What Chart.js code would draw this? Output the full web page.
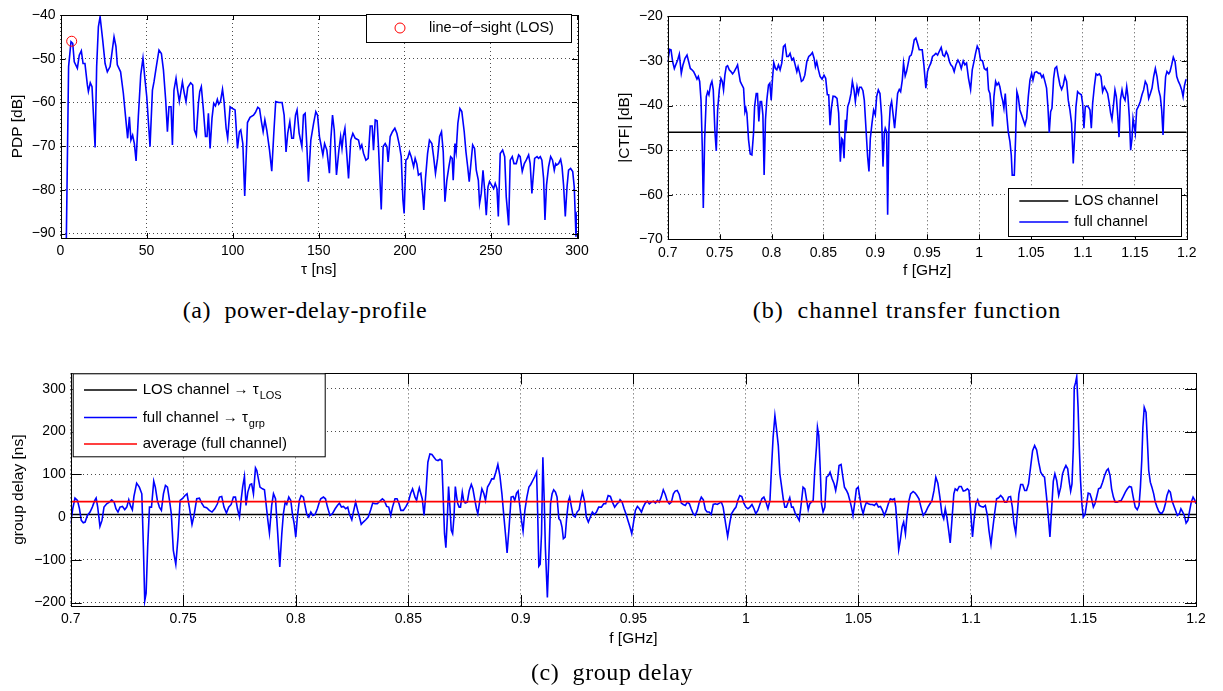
<!DOCTYPE html>
<html>
<head>
<meta charset="utf-8">
<script src="https://cdn.jsdelivr.net/npm/chart.js@4.4.1/dist/chart.umd.min.js"></script>
<style>
  html, body { margin: 0; padding: 0; background: #fff; }
  body { position: relative; width: 1223px; height: 691px; overflow: hidden; }
  canvas { position: absolute; }
  .caption {
    position: absolute; width: 600px; text-align: center; white-space: pre;
    font-family: "Liberation Serif", "Times New Roman", serif; font-size: 24px; line-height: 24px;
    letter-spacing: 0.6px; color: #000;
  }
</style>
</head>
<body>
<canvas id="pdp" width="600" height="290" style="left:0;top:0"></canvas>
<canvas id="ctf" width="613" height="290" style="left:610px;top:0"></canvas>
<canvas id="gd" width="1223" height="300" style="left:0;top:360px"></canvas>
<div class="caption" style="left:5px;top:298px">(a)  power-delay-profile</div>
<div class="caption" style="left:607px;top:298px;letter-spacing:0.95px">(b)  channel transfer function</div>
<div class="caption" style="left:312px;top:660px">(c)  group delay</div>
<script>
// ---- power-delay-profile ----
const tauNs = [
  3.4, 4.7, 6.1, 7.1, 8.0, 9.8, 10.9, 12.1, 13.1, 14.2,
  15.6, 16.2, 17.3, 18.3, 20.1, 21.0, 22.0, 23.0, 24.5, 25.9,
  27.2, 28.8, 29.7, 31.1, 32.2, 33.0, 34.9, 36.5, 37.8, 39.0,
  40.0, 40.9, 41.9, 42.9, 43.9, 45.2, 46.6, 47.9, 48.9, 50.1,
  52.0, 53.4, 54.3, 55.5, 57.2, 58.6, 59.8, 61.1, 62.1, 63.0,
  64.2, 65.0, 65.9, 67.1, 68.0, 69.0, 70.8, 71.9, 72.9, 73.9,
  75.6, 76.8, 77.8, 78.9, 80.1, 80.9, 81.8, 83.0, 84.2, 85.1,
  85.9, 86.9, 88.0, 89.0, 90.0, 91.1, 91.9, 92.9, 94.1, 95.0,
  96.2, 97.1, 98.5, 99.9, 101.4, 102.8, 103.9, 104.7, 105.9, 107.0,
  108.6, 110.1, 112.1, 113.2, 114.6, 115.6, 116.7, 117.7, 118.7, 119.8,
  121.4, 122.7, 123.9, 125.0, 126.8, 128.7, 129.9, 131.0, 132.0, 133.2,
  134.3, 135.3, 136.5, 137.4, 138.6, 140.2, 141.1, 142.1, 143.1, 144.0,
  145.4, 147.0, 148.3, 149.3, 150.4, 152.4, 153.4, 154.7, 156.2, 157.0,
  158.0, 159.0, 160.3, 161.7, 162.7, 163.5, 164.2, 165.2, 166.1, 167.3,
  168.6, 169.8, 171.2, 173.1, 174.1, 175.0, 176.0, 177.4, 178.7, 179.9,
  181.0, 181.8, 182.8, 183.9, 184.7, 186.3, 187.4, 188.6, 189.6, 190.3,
  191.5, 192.8, 194.2, 195.4, 196.8, 197.9, 198.9, 199.6, 200.6, 201.6,
  202.7, 203.7, 205.1, 206.0, 207.0, 207.9, 209.3, 210.5, 211.0, 212.0,
  213.2, 214.3, 215.7, 216.7, 217.8, 219.0, 220.2, 221.3, 222.3, 223.3,
  224.4, 225.6, 226.6, 227.5, 228.1, 229.1, 229.8, 230.8, 232.0, 233.1,
  234.5, 235.5, 236.5, 237.4, 238.4, 239.4, 240.5, 241.5, 242.7, 243.4,
  244.4, 245.4, 246.3, 247.3, 248.3, 249.2, 250.4, 251.6, 252.5, 253.5,
  254.3, 255.4, 256.8, 258.0, 258.9, 260.3, 261.2, 262.4, 263.4, 264.7,
  266.1, 267.0, 268.2, 269.4, 270.5, 271.9, 272.8, 273.8, 275.4, 276.8,
  277.7, 278.7, 279.6, 280.6, 281.4, 282.3, 283.5, 284.7, 285.8, 286.8,
  287.6, 288.3, 289.3, 290.5, 291.3, 292.2, 293.2, 294.2, 295.1, 296.3,
  297.5, 298.4, 299.4, 300
];
const pdpDb = [
  -91, -51.8, -46.1, -46.5, -50.7, -52.2, -49.2, -48.2, -51.1, -51.1,
  -56, -57.5, -55.5, -56.4, -70.3, -51.8, -42.7, -40.4, -45.7, -51.1,
  -53, -51.8, -49.2, -45, -47.2, -51.4, -53, -57.9, -63.3, -68.2,
  -63.3, -68.6, -67.5, -69.4, -73.4, -63.3, -53.7, -49.9, -54.1, -58.7,
  -70.1, -57.2, -55.3, -52.2, -48, -48.8, -52.6, -59.5, -66.7, -61,
  -61, -69.7, -57.2, -54.5, -57.2, -59.8, -55.3, -57.9, -59.8, -56.6,
  -55.5, -56, -66.3, -67.5, -60.2, -57.5, -56.4, -61.7, -67.8, -67.8,
  -62.5, -70.5, -63.6, -60.2, -60.8, -59.3, -60.4, -59.8, -57, -59.8,
  -65.9, -68.2, -61, -61.4, -61.7, -70.5, -66.7, -66.3, -69.4, -81.4,
  -64.6, -63.4, -62.9, -62.3, -61.1, -61.4, -64.4, -66.7, -64, -66.3,
  -70.9, -75.7, -67, -59.8, -60, -60, -62.9, -71.3, -67, -64.4,
  -68.2, -68.2, -62.9, -61.7, -67, -70.1, -62.9, -62.5, -70.1, -78.1,
  -68.6, -64.8, -62.1, -62.9, -67.8, -72, -69.4, -70.9, -76.2, -68.6,
  -62.9, -66.3, -76.6, -70.9, -67.8, -70.5, -67.8, -65.9, -70.9, -77.4,
  -68.6, -67.1, -68.2, -68.6, -70.5, -69.7, -71.6, -73.2, -72.8, -65.4,
  -65.4, -70.9, -64, -64.2, -70.1, -84.5, -70.1, -69.4, -70.1, -73.6,
  -67.8, -66.7, -65.9, -67.1, -69.7, -72.4, -82.3, -85.4, -73.2, -72.8,
  -71.3, -72.4, -74.7, -72.8, -74.1, -76.6, -76.2, -81.6, -84.6, -77.4,
  -71.7, -68.6, -69.4, -72.4, -76.2, -72.8, -67.8, -66.7, -71.3, -82.7,
  -77.8, -74.7, -72.4, -72.8, -77.8, -69.4, -71.3, -64.8, -61.4, -62.1,
  -66.7, -71.3, -74.7, -78.1, -73.9, -69.7, -70.5, -75.5, -77.8, -83.1,
  -80.8, -75.5, -79.7, -85.8, -79.3, -78.1, -78.9, -79.7, -78.5, -79.7,
  -86.1, -71.7, -70.9, -72.4, -81.6, -88.1, -73.2, -72.4, -74, -74,
  -72, -72.4, -75.8, -74, -73.2, -72, -74, -80.8, -72.8, -72.4,
  -72.8, -72.4, -73.2, -77.4, -86.9, -78.9, -74.7, -72.4, -73.2, -75.5,
  -74, -74.3, -74, -73, -74.7, -78.9, -86.1, -79.3, -75.5, -75.1,
  -75.8, -79.3, -90.7, -85
];
const losTauNs = 6.5;
const losPdpDb = -46;
const pdpTauTicks = [0, 50, 100, 150, 200, 250, 300];
const pdpDbTicks = [-90, -80, -70, -60, -50, -40];

// ---- channel transfer function ----
const ctfFreqGHz = [
  0.7000, 0.7019, 0.7032, 0.7048, 0.7064, 0.7077, 0.7096, 0.7112, 0.7131, 0.7147,
  0.7167, 0.7186, 0.7202, 0.7218, 0.7234, 0.7250, 0.7266, 0.7282, 0.7295, 0.7308,
  0.7321, 0.7333, 0.7343, 0.7356, 0.7372, 0.7385, 0.7397, 0.7413, 0.7426, 0.7439,
  0.7455, 0.7468, 0.7481, 0.7497, 0.7513, 0.7526, 0.7538, 0.7551, 0.7564, 0.7577,
  0.7593, 0.7609, 0.7625, 0.7641, 0.7657, 0.7673, 0.7686, 0.7699, 0.7715, 0.7731,
  0.7744, 0.7753, 0.7763, 0.7779, 0.7795, 0.7811, 0.7827, 0.7837, 0.7853, 0.7865,
  0.7878, 0.7891, 0.7904, 0.7917, 0.7929, 0.7942, 0.7955, 0.7971, 0.7984, 0.7997,
  0.8010, 0.8022, 0.8038, 0.8051, 0.8067, 0.8083, 0.8099, 0.8115, 0.8131, 0.8147,
  0.8163, 0.8179, 0.8196, 0.8212, 0.8228, 0.8244, 0.8256, 0.8272, 0.8288, 0.8304,
  0.8321, 0.8340, 0.8359, 0.8375, 0.8394, 0.8410, 0.8423, 0.8436, 0.8452, 0.8468,
  0.8487, 0.8506, 0.8522, 0.8538, 0.8551, 0.8564, 0.8577, 0.8593, 0.8612, 0.8631,
  0.8647, 0.8663, 0.8676, 0.8686, 0.8699, 0.8712, 0.8721, 0.8734, 0.8750, 0.8766,
  0.8779, 0.8795, 0.8808, 0.8824, 0.8837, 0.8849, 0.8865, 0.8881, 0.8894, 0.8910,
  0.8926, 0.8939, 0.8952, 0.8968, 0.8984, 0.9000, 0.9013, 0.9029, 0.9045, 0.9061,
  0.9074, 0.9087, 0.9096, 0.9109, 0.9119, 0.9131, 0.9144, 0.9157, 0.9170, 0.9186,
  0.9199, 0.9215, 0.9231, 0.9244, 0.9260, 0.9272, 0.9288, 0.9301, 0.9314, 0.9330,
  0.9346, 0.9359, 0.9375, 0.9391, 0.9407, 0.9423, 0.9436, 0.9452, 0.9468, 0.9487,
  0.9503, 0.9519, 0.9535, 0.9551, 0.9567, 0.9584, 0.9600, 0.9616, 0.9635, 0.9651,
  0.9667, 0.9683, 0.9699, 0.9715, 0.9728, 0.9744, 0.9760, 0.9776, 0.9796, 0.9812,
  0.9828, 0.9847, 0.9863, 0.9879, 0.9898, 0.9918, 0.9934, 0.9950, 0.9966, 0.9982,
  0.9998, 1.0014, 1.0033, 1.0050, 1.0066, 1.0078, 1.0091, 1.0104, 1.0117, 1.0130,
  1.0143, 1.0159, 1.0172, 1.0188, 1.0200, 1.0217, 1.0226, 1.0239, 1.0252, 1.0265,
  1.0281, 1.0297, 1.0310, 1.0319, 1.0339, 1.0352, 1.0364, 1.0377, 1.0393, 1.0409,
  1.0425, 1.0442, 1.0458, 1.0474, 1.0490, 1.0506, 1.0519, 1.0535, 1.0554, 1.0573,
  1.0589, 1.0605, 1.0618, 1.0634, 1.0650, 1.0663, 1.0676, 1.0689, 1.0702, 1.0718,
  1.0731, 1.0747, 1.0763, 1.0779, 1.0795, 1.0811, 1.0827, 1.0843, 1.0859, 1.0875,
  1.0891, 1.0907, 1.0920, 1.0933, 1.0949, 1.0965, 1.0985, 1.0997, 1.1010, 1.1023,
  1.1039, 1.1055, 1.1068, 1.1081, 1.1094, 1.1110, 1.1126, 1.1142, 1.1158, 1.1174,
  1.1190, 1.1206, 1.1222, 1.1238, 1.1254, 1.1267, 1.1280, 1.1293, 1.1309, 1.1322,
  1.1335, 1.1348, 1.1361, 1.1377, 1.1389, 1.1406, 1.1422, 1.1434, 1.1447, 1.1460,
  1.1473, 1.1483, 1.1495, 1.1505, 1.1518, 1.1537, 1.1553, 1.1569, 1.1585, 1.1601,
  1.1618, 1.1634, 1.1650, 1.1666, 1.1682, 1.1698, 1.1714, 1.1730, 1.1746, 1.1759,
  1.1772, 1.1785, 1.1797, 1.1810, 1.1827, 1.1839, 1.1855, 1.1871, 1.1888, 1.1904,
  1.1920, 1.1936, 1.1952, 1.1965, 1.1978, 1.1991, 1.2000
];
const ctfDb = [
  -30.2, -27.4, -27.5, -30.2, -31.7, -30.9, -29.8, -28.5, -32.8, -30.9,
  -29.4, -28.7, -30.2, -31.7, -32.0, -32.4, -33.2, -34.1, -33.5, -34.6,
  -38.8, -49.2, -63.0, -47.7, -38.0, -36.9, -37.6, -35.4, -34.6, -36.5,
  -45.9, -50.2, -41.0, -36.5, -33.9, -34.6, -36.5, -33.2, -31.3, -31.1,
  -32.0, -32.4, -32.9, -32.4, -31.7, -30.9, -32.8, -34.6, -35.4, -36.1,
  -41.4, -40.6, -41.7, -47.7, -50.9, -51.1, -46.2, -40.3, -37.3, -37.3,
  -43.6, -39.1, -39.1, -42.1, -55.6, -43.2, -38.8, -35.4, -35.0, -38.8,
  -33.9, -30.4, -31.7, -32.0, -30.9, -32.0, -30.5, -26.8, -26.4, -29.0,
  -29.0, -28.3, -29.8, -29.4, -30.9, -32.4, -31.3, -32.8, -34.6, -34.3,
  -33.2, -30.2, -29.0, -28.7, -28.1, -29.4, -31.3, -30.2, -32.0, -33.5,
  -34.1, -33.2, -33.9, -37.6, -37.6, -44.4, -40.6, -37.9, -38.0, -38.4,
  -41.7, -52.6, -47.4, -47.7, -51.8, -43.2, -44.7, -40.3, -39.1, -37.3,
  -34.6, -36.5, -39.1, -35.8, -37.3, -35.9, -35.9, -36.7, -38.8, -45.1,
  -51.5, -54.8, -47.4, -44.0, -41.0, -42.1, -38.0, -36.5, -37.3, -42.5,
  -53.7, -46.2, -45.1, -45.9, -64.5, -45.5, -40.3, -39.1, -41.7, -45.1,
  -41.7, -37.3, -36.4, -36.9, -34.3, -30.5, -33.4, -32.4, -30.9, -29.0,
  -28.7, -27.5, -25.3, -24.9, -26.1, -27.5, -27.5, -27.5, -30.9, -36.1,
  -32.4, -31.3, -30.5, -29.0, -28.7, -28.3, -28.7, -27.9, -27.0, -28.7,
  -29.0, -27.9, -28.7, -30.2, -30.9, -31.3, -32.4, -30.9, -29.8, -30.5,
  -31.7, -30.0, -30.9, -30.5, -33.9, -36.4, -32.0, -30.2, -28.3, -26.7,
  -27.5, -29.8, -30.0, -31.7, -32.0, -31.7, -36.5, -37.3, -40.6, -44.7,
  -38.0, -34.6, -35.4, -34.9, -35.8, -38.0, -38.8, -40.6, -37.3, -41.7,
  -45.9, -48.1, -51.1, -55.6, -55.6, -47.0, -36.9, -38.0, -41.0, -42.1,
  -43.2, -44.4, -42.9, -38.0, -34.3, -32.8, -34.3, -32.6, -32.4, -32.8,
  -32.8, -33.7, -33.2, -34.6, -36.1, -40.3, -46.1, -41.4, -40.6, -33.9,
  -31.7, -31.3, -33.5, -35.4, -36.4, -35.4, -33.5, -34.6, -38.8, -41.0,
  -44.0, -53.0, -47.0, -40.3, -36.9, -37.3, -37.6, -39.5, -45.1, -40.3,
  -40.1, -40.4, -41.0, -45.1, -39.5, -35.8, -32.9, -33.2, -32.9, -33.5,
  -36.9, -35.8, -36.5, -37.3, -39.5, -41.7, -43.1, -40.3, -36.5, -38.0,
  -42.1, -47.1, -38.8, -36.5, -38.0, -38.8, -35.8, -38.0, -42.5, -50.0,
  -47.4, -42.9, -44.7, -46.2, -41.0, -40.1, -39.1, -37.6, -36.5, -34.6,
  -35.4, -38.4, -37.3, -36.1, -33.5, -31.7, -33.5, -36.5, -38.0, -41.0,
  -46.6, -38.0, -33.5, -32.4, -32.9, -32.4, -30.9, -29.2, -30.2, -33.5,
  -34.6, -35.4, -36.5, -38.0, -35.6, -34.3, -34.1
];
const losCtfDb = -46;
const ctfFreqTicks = [0.7, 0.75, 0.8, 0.85, 0.9, 0.95, 1, 1.05, 1.1, 1.15, 1.2];
const ctfDbTicks = [-70, -60, -50, -40, -30, -20];

// ---- group delay ----
const gdFreqGHz = [
  0.7000, 0.7009, 0.7019, 0.7030, 0.7039, 0.7047, 0.7056, 0.7064, 0.7074, 0.7086,
  0.7096, 0.7107, 0.7113, 0.7120, 0.7130, 0.7139, 0.7148, 0.7160, 0.7172, 0.7182,
  0.7193, 0.7201, 0.7210, 0.7219, 0.7230, 0.7240, 0.7249, 0.7258, 0.7265, 0.7274,
  0.7281, 0.7293, 0.7305, 0.7316, 0.7323, 0.7329, 0.7335, 0.7342, 0.7350, 0.7359,
  0.7369, 0.7376, 0.7385, 0.7394, 0.7403, 0.7412, 0.7421, 0.7430, 0.7439, 0.7447,
  0.7456, 0.7467, 0.7477, 0.7486, 0.7496, 0.7508, 0.7517, 0.7527, 0.7539, 0.7548,
  0.7560, 0.7572, 0.7582, 0.7593, 0.7604, 0.7616, 0.7628, 0.7640, 0.7652, 0.7661,
  0.7671, 0.7681, 0.7692, 0.7702, 0.7713, 0.7723, 0.7732, 0.7741, 0.7750, 0.7757,
  0.7764, 0.7772, 0.7779, 0.7787, 0.7797, 0.7804, 0.7812, 0.7821, 0.7827, 0.7834,
  0.7841, 0.7852, 0.7861, 0.7868, 0.7876, 0.7883, 0.7893, 0.7901, 0.7910, 0.7919,
  0.7929, 0.7938, 0.7945, 0.7953, 0.7960, 0.7969, 0.7978, 0.7985, 0.7993, 0.8000,
  0.8007, 0.8016, 0.8024, 0.8034, 0.8041, 0.8049, 0.8058, 0.8067, 0.8076, 0.8086,
  0.8096, 0.8105, 0.8111, 0.8123, 0.8132, 0.8141, 0.8152, 0.8163, 0.8175, 0.8185,
  0.8194, 0.8203, 0.8212, 0.8222, 0.8231, 0.8238, 0.8249, 0.8256, 0.8266, 0.8275,
  0.8283, 0.8291, 0.8300, 0.8311, 0.8322, 0.8333, 0.8342, 0.8352, 0.8362, 0.8374,
  0.8385, 0.8393, 0.8404, 0.8413, 0.8422, 0.8430, 0.8441, 0.8450, 0.8459, 0.8467,
  0.8478, 0.8490, 0.8500, 0.8510, 0.8519, 0.8530, 0.8537, 0.8544, 0.8549, 0.8556,
  0.8562, 0.8570, 0.8578, 0.8587, 0.8596, 0.8605, 0.8614, 0.8623, 0.8632, 0.8641,
  0.8649, 0.8655, 0.8661, 0.8667, 0.8673, 0.8679, 0.8685, 0.8691, 0.8697, 0.8703,
  0.8709, 0.8715, 0.8720, 0.8726, 0.8732, 0.8740, 0.8746, 0.8753, 0.8762, 0.8771,
  0.8780, 0.8787, 0.8796, 0.8803, 0.8809, 0.8818, 0.8827, 0.8836, 0.8843, 0.8852,
  0.8862, 0.8871, 0.8880, 0.8889, 0.8898, 0.8907, 0.8916, 0.8925, 0.8933, 0.8939,
  0.8948, 0.8957, 0.8966, 0.8973, 0.8981, 0.8988, 0.8996, 0.9003, 0.9010, 0.9018,
  0.9027, 0.9036, 0.9044, 0.9053, 0.9062, 0.9070, 0.9075, 0.9080, 0.9086, 0.9092,
  0.9098, 0.9104, 0.9109, 0.9118, 0.9126, 0.9132, 0.9139, 0.9146, 0.9154, 0.9161,
  0.9169, 0.9176, 0.9183, 0.9189, 0.9197, 0.9204, 0.9212, 0.9217, 0.9225, 0.9232,
  0.9241, 0.9250, 0.9259, 0.9266, 0.9274, 0.9284, 0.9291, 0.9300, 0.9309, 0.9318,
  0.9327, 0.9336, 0.9346, 0.9358, 0.9368, 0.9377, 0.9388, 0.9398, 0.9407, 0.9417,
  0.9428, 0.9436, 0.9441, 0.9450, 0.9459, 0.9467, 0.9476, 0.9485, 0.9493, 0.9500,
  0.9509, 0.9518, 0.9527, 0.9536, 0.9544, 0.9553, 0.9562, 0.9571, 0.9580, 0.9589,
  0.9598, 0.9607, 0.9615, 0.9624, 0.9633, 0.9642, 0.9651, 0.9660, 0.9669, 0.9678,
  0.9686, 0.9695, 0.9704, 0.9713, 0.9722, 0.9731, 0.9740, 0.9749, 0.9757, 0.9766,
  0.9775, 0.9784, 0.9793, 0.9802, 0.9811, 0.9820, 0.9828, 0.9837, 0.9846, 0.9855,
  0.9864, 0.9873, 0.9882, 0.9891, 0.9899, 0.9910, 0.9919, 0.9928, 0.9936, 0.9947,
  0.9956, 0.9964, 0.9973, 0.9982, 0.9991, 1.0000, 1.0009, 1.0018, 1.0027, 1.0036,
  1.0044, 1.0053, 1.0062, 1.0071, 1.0080, 1.0089, 1.0098, 1.0107, 1.0114, 1.0121,
  1.0129, 1.0136, 1.0144, 1.0151, 1.0158, 1.0166, 1.0173, 1.0180, 1.0188, 1.0195,
  1.0203, 1.0210, 1.0219, 1.0229, 1.0237, 1.0246, 1.0254, 1.0262, 1.0269, 1.0277,
  1.0284, 1.0291, 1.0299, 1.0306, 1.0314, 1.0318, 1.0324, 1.0330, 1.0336, 1.0343,
  1.0351, 1.0358, 1.0367, 1.0374, 1.0383, 1.0392, 1.0399, 1.0407, 1.0414, 1.0423,
  1.0430, 1.0438, 1.0447, 1.0454, 1.0462, 1.0469, 1.0476, 1.0484, 1.0491, 1.0499,
  1.0506, 1.0513, 1.0521, 1.0528, 1.0536, 1.0544, 1.0553, 1.0562, 1.0571, 1.0580,
  1.0589, 1.0598, 1.0607, 1.0615, 1.0624, 1.0633, 1.0642, 1.0651, 1.0660, 1.0666,
  1.0673, 1.0679, 1.0686, 1.0694, 1.0701, 1.0709, 1.0716, 1.0725, 1.0732, 1.0743,
  1.0752, 1.0760, 1.0769, 1.0778, 1.0788, 1.0799, 1.0809, 1.0818, 1.0827, 1.0836,
  1.0844, 1.0853, 1.0862, 1.0871, 1.0879, 1.0886, 1.0893, 1.0901, 1.0908, 1.0916,
  1.0924, 1.0930, 1.0939, 1.0948, 1.0957, 1.0966, 1.0975, 1.0984, 1.0991, 1.0999,
  1.1007, 1.1015, 1.1022, 1.1030, 1.1037, 1.1046, 1.1055, 1.1064, 1.1073, 1.1080,
  1.1089, 1.1096, 1.1105, 1.1114, 1.1123, 1.1132, 1.1141, 1.1150, 1.1159, 1.1167,
  1.1176, 1.1184, 1.1191, 1.1199, 1.1206, 1.1213, 1.1221, 1.1230, 1.1239, 1.1247,
  1.1256, 1.1265, 1.1274, 1.1283, 1.1292, 1.1301, 1.1310, 1.1319, 1.1327, 1.1336,
  1.1344, 1.1351, 1.1359, 1.1366, 1.1373, 1.1381, 1.1390, 1.1399, 1.1407, 1.1415,
  1.1422, 1.1430, 1.1437, 1.1443, 1.1449, 1.1455, 1.1459, 1.1465, 1.1470, 1.1476,
  1.1481, 1.1487, 1.1493, 1.1499, 1.1507, 1.1514, 1.1521, 1.1529, 1.1536, 1.1544,
  1.1551, 1.1559, 1.1567, 1.1576, 1.1585, 1.1594, 1.1603, 1.1610, 1.1618, 1.1625,
  1.1633, 1.1641, 1.1650, 1.1659, 1.1668, 1.1677, 1.1686, 1.1695, 1.1704, 1.1713,
  1.1721, 1.1730, 1.1739, 1.1747, 1.1753, 1.1759, 1.1764, 1.1770, 1.1778, 1.1784,
  1.1790, 1.1797, 1.1804, 1.1812, 1.1819, 1.1827, 1.1834, 1.1841, 1.1849, 1.1856,
  1.1864, 1.1871, 1.1879, 1.1886, 1.1893, 1.1901, 1.1908, 1.1917, 1.1926, 1.1933,
  1.1941, 1.1948, 1.1956, 1.1964, 1.1972, 1.1979, 1.1987, 1.1994, 1.2000
];
const gdNs = [
  -15.6, 19.4, 44.3, 38.9, 19.4, -7.8, -13.2, -11.7, 3.9, 11.7,
  23.3, 38.9, 44.3, 23.3, -21.8, -7.8, 23.3, 31.1, 35.0, 40.4,
  35.0, 19.4, 11.7, 23.3, 24.9, 17.1, 23.3, 40.4, 27.2, 17.1,
  48.2, 79.3, 70.0, 54.4, -70.0, -196, -178.8, -70.0, 23.3, 23.3,
  84.0, 70.0, 38.9, 23.3, 15.6, 54.4, 73.9, 70.0, 38.9, 7.8,
  -77.8, -110.4, -46.7, 38.9, 42.8, 50.5, 54.4, 23.3, -17.1, 3.9,
  42.8, 44.3, 32.7, 23.3, 21.8, 15.6, 11.7, 19.4, 31.1, 46.7,
  48.2, 23.3, 9.3, 23.3, 29.5, 46.7, 46.7, 19.4, 0, 38.9,
  70.0, 94.9, 27.2, 58.3, 76.2, 77.8, 54.4, 115.1, 108.9, 89.4,
  70.0, 66.1, 63.8, 31.1, -7.8, -37.3, 27.2, 54.4, 42.8, -31.1,
  -116.6, -38.9, 7.8, 35.0, 29.5, 46.7, 38.9, 7.8, -15.6, -46.7,
  0, 38.9, 50.5, 46.7, 27.2, 6.2, 0, 11.7, 3.9, 6.2,
  19.4, 35.0, 42.8, 46.7, 42.8, 23.3, 3.9, 7.8, 19.4, 27.2,
  32.7, 23.3, 24.9, 19.4, 23.3, 7.8, -6.2, 11.7, 35.0, 15.6,
  0, -17.1, -11.7, -6.2, 0, 17.1, 32.7, 31.1, 31.1, 37.3,
  42.8, 38.9, 24.9, 23.3, 3.9, 23.3, 42.8, 42.8, 31.1, 15.6,
  15.6, 24.9, 35.0, 54.4, 66.1, 46.7, 38.9, 58.3, 68.4, 54.4,
  42.8, 3.9, 54.4, 128.3, 147.7, 146.2, 140.0, 133.7, 132.2, 135.3,
  132.2, 46.7, -38.9, -71.5, -7.8, 71.5, 23.3, -31.1, -38.9, 0,
  71.5, 46.7, 31.1, 23.3, 23.3, 58.3, 38.9, 32.7, 35.0, 62.2,
  76.2, 66.1, 38.9, 19.4, 7.8, 38.9, 66.1, 54.4, 38.9, 70.0,
  79.3, 89.4, 89.4, 105.0, 122.9, 97.2, 54.4, 0, -46.7, -84.0,
  -23.3, 46.7, 48.2, 38.9, 56.0, 60.7, 23.3, -7.8, -32.7, 15.6,
  46.7, 70.0, 76.2, 85.5, 94.9, 105.0, 7.8, -115.1, -110.4, -38.9,
  140.0, 38.9, -70.0, -188.2, -70.0, 31.1, 54.4, 63.8, 58.3, 46.7,
  -3.9, -7.8, -23.3, -50.5, -46.7, 0, 38.9, 46.7, 23.3, 3.9,
  0, 11.7, 17.1, 38.9, 58.3, 35.0, 0, -11.7, 0, 11.7,
  6.2, 11.7, 23.3, 23.3, 31.1, 31.1, 50.5, 48.2, 35.0, 23.3,
  31.1, 35.0, 40.4, 35.0, 19.4, 7.8, -7.8, -23.3, -38.9, -15.6,
  15.6, 24.9, 19.4, 11.7, 23.3, 32.7, 37.3, 31.1, 35.0, 37.3,
  32.7, 38.9, 35.0, 46.7, 63.8, 52.9, 37.3, 31.1, 35.0, 54.4,
  60.7, 62.2, 52.9, 32.7, 29.5, 27.2, 35.0, 31.1, 19.4, 7.8,
  3.9, 15.6, 35.0, 46.7, 40.4, 17.1, 11.7, 11.7, 6.2, 29.5,
  31.1, 29.5, 32.7, 35.0, 23.3, -15.6, -45.1, -15.6, 7.8, 17.1,
  23.3, 38.9, 50.5, 48.2, 32.7, 23.3, 19.4, 23.3, 29.5, 19.4,
  7.8, 15.6, 29.5, 42.8, 46.7, 35.0, 19.4, 38.9, 116.6, 186.6,
  237.2, 206.1, 167.2, 101.1, 73.9, 42.8, 23.3, 23.3, 35.0, 45.1,
  23.3, 23.3, 9.3, 0, -7.8, 31.1, 70.0, 66.1, 42.8, 17.1,
  31.1, 35.0, 38.9, 108.9, 167.2, 210.0, 190.5, 116.6, 31.1, 11.7,
  23.3, 93.3, 97.2, 105.0, 89.4, 77.8, 62.2, 85.5, 120.5, 122.9,
  97.2, 70.0, 62.2, 54.4, 38.9, 23.3, 3.9, 35.0, 66.1, 70.0,
  46.7, 23.3, 7.8, 23.3, 35.0, 31.1, 29.5, 29.5, 27.2, 32.7,
  23.3, 24.9, 15.6, 3.9, 15.6, 31.1, 42.8, 40.4, 42.8, 23.3,
  -29.5, -76.2, -54.4, -23.3, -11.7, -38.9, 3.9, 38.9, 54.4, 59.9,
  56.0, 50.5, 42.8, 23.3, 3.9, 11.7, 23.3, 31.1, 38.9, 62.2,
  93.3, 79.3, 46.7, 7.8, -3.9, 19.4, 0, -31.1, -60.7, -3.9,
  54.4, 66.1, 62.2, 71.5, 71.5, 60.7, 62.2, 66.1, 62.2, 11.7,
  -46.7, 0, 31.1, 40.4, 27.2, 24.9, 23.3, 27.2, 3.9, -31.1,
  -63.8, -31.1, 7.8, 42.8, 45.1, 50.5, 45.1, 35.0, 35.0, 46.7,
  48.2, 23.3, -15.6, -37.3, 7.8, 54.4, 76.2, 76.2, 62.2, 62.2,
  77.8, 116.6, 155.5, 167.2, 157.1, 128.3, 105.0, 97.2, 93.3, 46.7,
  0, -46.7, 23.3, 84.0, 101.1, 85.5, 50.5, 70.0, 101.1, 112.8,
  120.5, 112.8, 81.6, 60.7, 77.8, 163.3, 303.3, 314.9, 328.1, 256.6,
  171.1, 85.5, 31.1, 0, 6.2, 31.1, 56.0, 54.4, 42.8, 23.3,
  31.1, 48.2, 66.1, 68.4, 81.6, 97.2, 108.9, 112.8, 97.2, 66.1,
  46.7, 35.0, 35.0, 37.3, 38.9, 48.2, 58.3, 66.1, 71.5, 70.0,
  46.7, 23.3, 17.1, 27.2, 70.0, 132.2, 210.0, 256.6, 244.9, 178.8,
  108.9, 81.6, 70.0, 54.4, 35.0, 23.3, 14.0, 9.3, 9.3, 15.6,
  31.1, 50.5, 62.2, 58.3, 38.9, 27.2, 17.1, 3.9, 7.8, 19.4,
  11.7, 3.9, -14.0, -7.8, 15.6, 35.0, 46.7, 40.4, 31.1
];
const losGroupDelayNs = 6;
const avgGroupDelayNs = 36;
const gdFreqTicks = [0.7, 0.75, 0.8, 0.85, 0.9, 0.95, 1, 1.05, 1.1, 1.15, 1.2];
const gdNsTicks = [-200, -100, 0, 100, 200, 300];

// ---- drawing helpers ----
const FONT = '"Liberation Sans", Arial, Helvetica, sans-serif';
const BLUE = '#0000ff', RED = '#ff0000', BLACK = '#000000';
const GRID = 'rgba(0, 0, 0, 0.7)';

const xy = (xs, ys) => xs.map((x, i) => ({ x, y: ys[i] }));
const hline = (x0, x1, v) => [{ x: x0, y: v }, { x: x1, y: v }];
const fmtTick = v => String(Number(v.toFixed(2))).replace('-', '\u2212');

// black axes box with short inward ticks on all four sides
function frame(len) {
  return {
    id: 'frame',
    afterDatasetsDraw(chart) {
      const { ctx, chartArea: a, scales: { x, y } } = chart;
      const px = v => Math.round(v) + 0.5;
      ctx.save();
      ctx.strokeStyle = BLACK;
      ctx.lineWidth = 1;
      ctx.beginPath();
      x.ticks.forEach(t => {
        const p = px(x.getPixelForValue(t.value));
        ctx.moveTo(p, a.bottom); ctx.lineTo(p, a.bottom - len);
        ctx.moveTo(p, a.top); ctx.lineTo(p, a.top + len);
      });
      y.ticks.forEach(t => {
        const p = px(y.getPixelForValue(t.value));
        ctx.moveTo(a.left, p); ctx.lineTo(a.left + len, p);
        ctx.moveTo(a.right, p); ctx.lineTo(a.right - len, p);
      });
      ctx.stroke();
      ctx.strokeRect(px(a.left), px(a.top), Math.round(a.width), Math.round(a.height));
      ctx.restore();
    }
  };
}

// boxed legend drawn inside the axes
function legendBox(spec) {
  return {
    id: 'legendBox',
    afterDraw(chart) {
      const ctx = chart.ctx;
      ctx.save();
      ctx.fillStyle = '#fff';
      ctx.fillRect(spec.x, spec.y, spec.w, spec.h);
      ctx.strokeStyle = BLACK;
      ctx.lineWidth = 1;
      ctx.strokeRect(spec.x + 0.5, spec.y + 0.5, spec.w, spec.h);
      ctx.textAlign = 'left';
      ctx.textBaseline = 'middle';
      spec.items.forEach(it => {
        ctx.strokeStyle = it.color;
        ctx.beginPath();
        if (it.marker) {
          ctx.lineWidth = 1;
          ctx.arc(spec.sampleX + spec.sampleW / 2, it.y, 5, 0, 2 * Math.PI);
        } else {
          ctx.lineWidth = 1.5;
          ctx.moveTo(spec.sampleX, it.y);
          ctx.lineTo(spec.sampleX + spec.sampleW, it.y);
        }
        ctx.stroke();
        ctx.fillStyle = BLACK;
        ctx.font = spec.size + 'px ' + FONT;
        ctx.fillText(it.text, spec.textX, it.y);
        if (it.sub) {
          const w = ctx.measureText(it.text).width;
          ctx.font = Math.round(spec.size * 0.72) + 'px ' + FONT;
          ctx.fillText(it.sub, spec.textX + w + 1, it.y + 6);
        }
      });
      ctx.restore();
    }
  };
}

function axis(pos, min, max, ticks, title, size, titlePad) {
  return {
    type: 'linear', position: pos, min, max,
    afterBuildTicks: s => { s.ticks = ticks.map(v => ({ value: v })); },
    afterFit: s => { if (pos === 'bottom') s.height = size; else s.width = size; },
    ticks: {
      callback: v => fmtTick(v), color: BLACK, padding: 5,
      font: { family: FONT, size: 14 }, maxRotation: 0, autoSkip: false
    },
    grid: { color: GRID, lineWidth: 1, drawTicks: false },
    border: { display: false, dash: [1, 3] },
    title: { display: true, text: title, color: BLACK, font: { family: FONT, size: 15.5 }, padding: titlePad }
  };
}

function panel(id, area, xAxis, yAxis, datasets, tickLen, legend) {
  const canvas = document.getElementById(id);
  const W = canvas.width, H = canvas.height;
  return new Chart(canvas, {
    type: 'line',
    data: { datasets },
    options: {
      responsive: false,
      animation: false,
      events: [],
      layout: { padding: { left: 0, top: area.top, right: W - area.right, bottom: 0 } },
      plugins: { legend: { display: false }, tooltip: { enabled: false } },
      elements: { point: { radius: 0 }, line: { tension: 0, borderWidth: 1.6 } },
      scales: {
        x: axis('bottom', xAxis.min, xAxis.max, xAxis.ticks, xAxis.title, H - area.bottom, xAxis.pad),
        y: axis('left', yAxis.min, yAxis.max, yAxis.ticks, yAxis.title, area.left, yAxis.pad)
      }
    },
    plugins: [frame(tickLen), legendBox(legend)]
  });
}

// (a) power-delay-profile
panel('pdp', { left: 60.5, top: 15, right: 577, bottom: 238 },
  { min: 0, max: 300, ticks: pdpTauTicks, title: '\u03c4 [ns]', pad: { top: 0, bottom: 10.5 } },
  { min: -91, max: -40, ticks: pdpDbTicks, title: 'PDP [dB]', pad: { top: 8, bottom: 0 } },
  [
    { data: [{ x: losTauNs, y: losPdpDb }], showLine: false, pointRadius: 5,
      pointBorderColor: RED, pointBackgroundColor: 'rgba(0,0,0,0)', pointBorderWidth: 1, order: 1 },
    { data: xy(tauNs, pdpDb), borderColor: BLUE, order: 2 }
  ],
  5,
  { x: 366, y: 14, w: 205, h: 28, sampleX: 385, sampleW: 30, textX: 429, size: 14.5,
    items: [{ text: 'line\u2212of\u2212sight (LOS)', color: RED, marker: true, y: 28 }] });

// (b) channel transfer function
panel('ctf', { left: 57.7, top: 16.3, right: 576.7, bottom: 239.3 },
  { min: 0.7, max: 1.2, ticks: ctfFreqTicks, title: 'f [GHz]', pad: { top: 0, bottom: 10 } },
  { min: -70, max: -20, ticks: ctfDbTicks, title: '|CTF| [dB]', pad: { top: 5.7, bottom: 0 } },
  [
    { data: hline(0.7, 1.2, losCtfDb), borderColor: BLACK, order: 2 },
    { data: xy(ctfFreqGHz, ctfDb), borderColor: BLUE, order: 1 }
  ],
  5,
  { x: 398, y: 188, w: 173, h: 48, sampleX: 409.3, sampleW: 49, textX: 464.3, size: 14.5,
    items: [
      { text: 'LOS channel', color: BLACK, y: 201 },
      { text: 'full channel', color: BLUE, y: 222 }
    ] });

// (c) group delay
panel('gd', { left: 70.7, top: 12.7, right: 1196, bottom: 246 },
  { min: 0.7, max: 1.2, ticks: gdFreqTicks, title: 'f [GHz]', pad: { top: 0, bottom: 11.7 } },
  { min: -208, max: 336, ticks: gdNsTicks, title: 'group delay [ns]', pad: { top: 9.7, bottom: 0 } },
  [
    { data: hline(0.7, 1.2, losGroupDelayNs), borderColor: BLACK, order: 3 },
    { data: xy(gdFreqGHz, gdNs), borderColor: BLUE, order: 2 },
    { data: hline(0.7, 1.2, avgGroupDelayNs), borderColor: RED, order: 1 }
  ],
  11,
  { x: 72.7, y: 13.3, w: 252, h: 83, sampleX: 84, sampleW: 53, textX: 142.7, size: 15,
    items: [
      { text: 'LOS channel \u2192 \u03c4', sub: 'LOS', color: BLACK, y: 30 },
      { text: 'full channel \u2192 \u03c4', sub: 'grp', color: BLUE, y: 57.5 },
      { text: 'average (full channel)', color: RED, y: 84 }
    ] });
</script>
</body>
</html>
